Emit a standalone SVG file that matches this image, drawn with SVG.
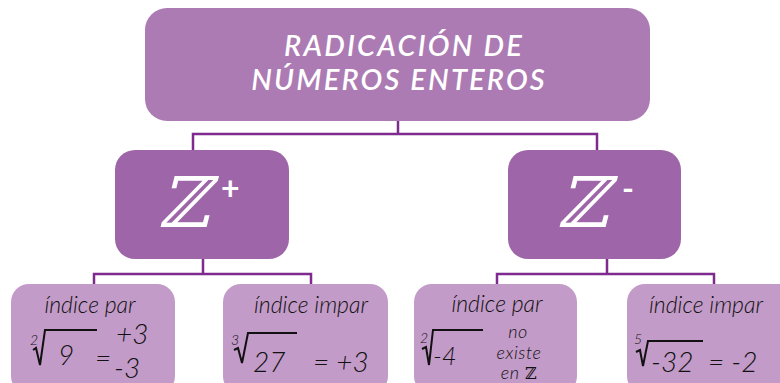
<svg xmlns="http://www.w3.org/2000/svg" width="780" height="383" viewBox="0 0 780 383">
<style>
.top{fill:#AC7BB4}
.mid{fill:#9E66A8}
.bot{fill:#C39BC8}
.conn{fill:none;stroke:#7E2A8F;stroke-width:2.5}
.title{font-family:Lato,"Open Sans",sans-serif;font-style:italic;font-weight:600;font-size:29px;letter-spacing:2.2px;fill:#fff;text-anchor:middle}
.zz{font-family:"DejaVu Serif",serif;font-style:italic;font-size:70px;fill:#fff}
.sup{font-family:Lato,sans-serif;font-weight:700;font-size:32px;fill:#fff}
.lbl{font-family:Lato,"Open Sans",sans-serif;font-style:italic;font-weight:300;font-size:23px;fill:#111;text-anchor:middle}
.num{font-family:Lato,"Open Sans",sans-serif;font-style:italic;font-weight:300;font-size:28px;fill:#111}
.idx{font-family:Lato,"Open Sans",sans-serif;font-style:italic;font-weight:300;font-size:14px;fill:#111}
.sm{font-family:Lato,"Open Sans",sans-serif;font-style:italic;font-weight:300;font-size:18px;letter-spacing:0.6px;fill:#111;text-anchor:middle}
.rad{fill:none;stroke:#111;stroke-width:2;stroke-linejoin:miter}
</style>
<g id="connectors">
<path class="conn" d="M398,121 L398,134 M193,150 L193,134 L597,134 L597,150"/>
<path class="conn" d="M203,259 L203,274 M94,284 L94,274 L311,274 L311,284"/>
<path class="conn" d="M607,259 L607,274 M497,284 L497,274 L714,274 L714,284"/>
</g>
<g id="root">
<rect class="top" x="145" y="8" width="505" height="113" rx="22"/>
<text class="title" x="404" y="56">RADICACIÓN DE</text>
<text class="title" x="399" y="90">NÚMEROS ENTEROS</text>
</g>
<g id="zpos">
<rect class="mid" x="115" y="150" width="174" height="109" rx="20"/>
<text class="zz" x="158" y="227">ℤ</text>
<text class="sup" x="221" y="200">+</text>
</g>
<g id="zneg">
<rect class="mid" x="508" y="150" width="173" height="109" rx="20"/>
<text class="zz" x="557" y="227">ℤ</text>
<text class="sup" x="622" y="200">-</text>
</g>
<g id="pospar">
<rect class="bot" x="11" y="284" width="164" height="110" rx="18"/>
<text class="lbl" x="90" y="313">índice par</text>
<text class="idx" x="30" y="345">2</text>
<path class="rad" d="M33,350 L36,348 L40,365 L45,330 L97,330"/>
<text class="num" x="58" y="365">9</text>
<text class="num" x="95" y="368">=</text>
<text class="num" x="116" y="344">+3</text>
<text class="num" x="114" y="378">-3</text>
</g>
<g id="posimpar">
<rect class="bot" x="223" y="284" width="165" height="110" rx="18"/>
<text class="lbl" x="311" y="313">índice impar</text>
<text class="idx" x="231" y="345">3</text>
<path class="rad" d="M234,350 L238,348 L242,363 L248,333 L297,333"/>
<text class="num" x="253" y="372">27</text>
<text class="num" x="313" y="372">= +3</text>
</g>
<g id="negpar">
<rect class="bot" x="414" y="284" width="163" height="110" rx="18"/>
<text class="lbl" x="497" y="312">índice par</text>
<text class="idx" x="420" y="343">2</text>
<path class="rad" d="M422,349 L426,347 L429,365 L433,330 L483,330"/>
<text class="num" x="433" y="365" style="font-size:25px">-4</text>
<text class="sm" x="518" y="338">no</text>
<text class="sm" x="519" y="359">existe</text>
<text class="sm" x="519" y="379">en <tspan style="font-family:'DejaVu Serif',serif;font-style:normal;font-size:16px">ℤ</tspan></text>
</g>
<g id="negimpar">
<rect class="bot" x="627" y="284" width="170" height="110" rx="18"/>
<text class="lbl" x="706" y="313">índice impar</text>
<text class="idx" x="634" y="344">5</text>
<path class="rad" d="M636,352 L640,350 L643,366 L648,341 L703,341"/>
<text class="num" x="651" y="372">-32</text>
<text class="num" x="708" y="372">= -2</text>
</g>
</svg>
